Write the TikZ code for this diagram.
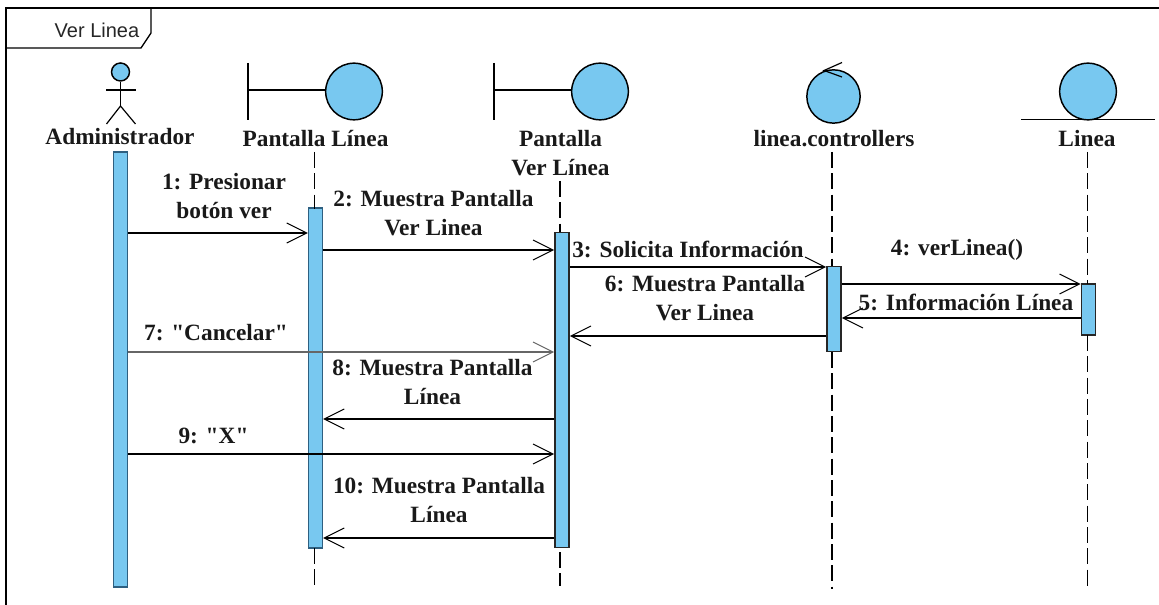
\documentclass[tikz,border=0pt]{standalone}
\usepackage{fontspec}
\setmainfont[Ligatures=TeXOff]{Liberation Serif}
\newfontfamily\tagfont{Liberation Sans}
\usetikzlibrary{arrows.meta}
\definecolor{umlblue}{HTML}{78C8F0}
\definecolor{umlline}{HTML}{2E5F80}
\tikzset{every path/.style={line width=0.9pt}}
\tikzset{
  lbl/.style={font=\fontsize{17.5}{21.75}\selectfont\bfseries,align=center,inner sep=0pt,color=black!90},
  act/.style={rectangle,draw=umlline,fill=umlblue,inner sep=0pt,minimum width=10.5pt},
  actd/.style={act,draw=black!85,line width=1.2pt},
  ball/.style={circle,draw,fill=umlblue,inner sep=0pt,line width=1.1pt},
  life/.style={dashed,dash pattern=on 12pt off 4pt,line width=0.7pt},
  msg/.style={->,>={Straight Barb[length=15pt,width=15pt,line width=0.8pt]},line width=0.8pt},
  msgb/.style={msg,line width=1.3pt}
}

\begin{document}
\begin{tikzpicture}[x=0.75pt,y=-0.75pt]
    \useasboundingbox (0,0) rectangle (1159,605);
    % frame
    \draw[line width=1pt] (1159,8) -- (6,8) -- (6,605);
    \draw[line width=1pt] (6,48) -- (141,48) -- (151,33) -- (151,8);
    \node[inner sep=0pt,font=\tagfont\fontsize{15}{18}\selectfont,color=black!85] (tag) at (97,30) {Ver Linea};
    % actor
    \node[ball,minimum size=13.5pt] (head) at (120.5,72) {};
    \coordinate (hip) at (120.5,106);
    \draw (head.south) -- (hip);
    \draw (106,90) -- (135.5,90);
    \draw (106.5,124) -- (hip) -- (135.5,124);
    \node[lbl] (admin) at (120,137) {Administrador};
    % boundaries
    \node[ball,minimum size=42.5pt] (pl) at (354,91.5) {};
    \draw (248,63) -- (248,120);
    \draw (248,90) -- (248,90 -| pl.west);
    \node[lbl] (pllbl) at (315.5,139) {Pantalla Línea};
    \node[ball,minimum size=42.5pt] (pv) at (600,91.5) {};
    \draw (494,63) -- (494,120);
    \draw (494,90) -- (494,90 -| pv.west);
    \node[lbl,anchor=north] (pvlbl) at (560.5,130) {Pantalla\\Ver Línea};
    % control
    \node[ball,minimum size=40pt] (ctl) at (833.5,96.5) {};
    \draw (842,62.5) -- (824,70.5) -- (842,77);
    \node[lbl] (ctllbl) at (834,139) {linea.controllers};
    % entity
    \node[ball,minimum size=42.5pt] (ent) at (1088,91.5) {};
    \draw (1021,119.5) -- (1155,119.5);
    \node[lbl] (entlbl) at (1087,139) {Linea};
    % activations
    \node[act,minimum height=435*.75pt] (a1) at (120.5,369.5) {};
    \node[act,minimum height=340*.75pt] (a2) at (315.5,378) {};
    \node[actd,minimum height=315*.75pt] (a3) at (562,390) {};
    \node[actd,minimum height=85*.75pt] (a4) at (834,309) {};
    \node[actd,minimum height=51*.75pt] (a5) at (1088.5,309.5) {};
    % lifelines
    \draw[life] (314,152) -- (314,209);
    \draw[life] (314,548) -- (314,590);
    \draw[life,line width=1.1pt] (560,181) -- (560,232);
    \draw[life,line width=1.1pt] (560,552) -- (560,586);
    \draw[life,line width=1.1pt] (832,152) -- (832,266);
    \draw[life,line width=1.1pt] (832,352) -- (832,589);
    \draw[life] (1087,152) -- (1087,284);
    \draw[life] (1087,335) -- (1087,589);
    % messages
    \path[msg] (a1.east |- 0,233) edge (a2.west |- 0,233);
    \path[msgb] (a2.east |- 0,250) edge (a3.west |- 0,250);
    \path[msgb] (a3.east |- 0,267) edge (a4.west |- 0,267);
    \path[msg] (a4.east |- 0,284) edge (a5.west |- 0,284);
    \path[msg,line width=1.1pt] (a5.west |- 0,318) edge (a4.east |- 0,318);
    \path[msgb] (a4.west |- 0,336) edge (a3.east |- 0,336);
    \path[msg,color=black!60] (a1.east |- 0,352) edge (a3.west |- 0,352);
    \path[msg] (a3.west |- 0,419) edge (a2.east |- 0,419);
    \path[msgb] (a1.east |- 0,454) edge (a3.west |- 0,454);
    \path[msgb] (a3.west |- 0,538) edge (a2.east |- 0,538);
    % message labels
    \node[lbl] (t1) at (224,196) {1: Presionar\\botón ver};
    \node[lbl] (t2) at (433.5,213) {2: Muestra Pantalla\\Ver Linea};
    \node[lbl] (t3) at (688,249) {3: Solicita Información};
    \node[lbl] (t4) at (957,250) {4: verLinea()};
    \node[lbl] (t5) at (966,302) {5: Información Línea};
    \node[lbl] (t6) at (705,298) {6: Muestra Pantalla\\Ver Linea};
    \node[lbl] (t7) at (216,333) {7: "Cancelar"};
    \node[lbl] (t8) at (432.5,382) {8: Muestra Pantalla\\Línea};
    \node[lbl] (t9) at (213.5,436) {9: "X"};
    \node[lbl] (t10) at (439,500) {10: Muestra Pantalla\\Línea};
\end{tikzpicture}
\end{document}
